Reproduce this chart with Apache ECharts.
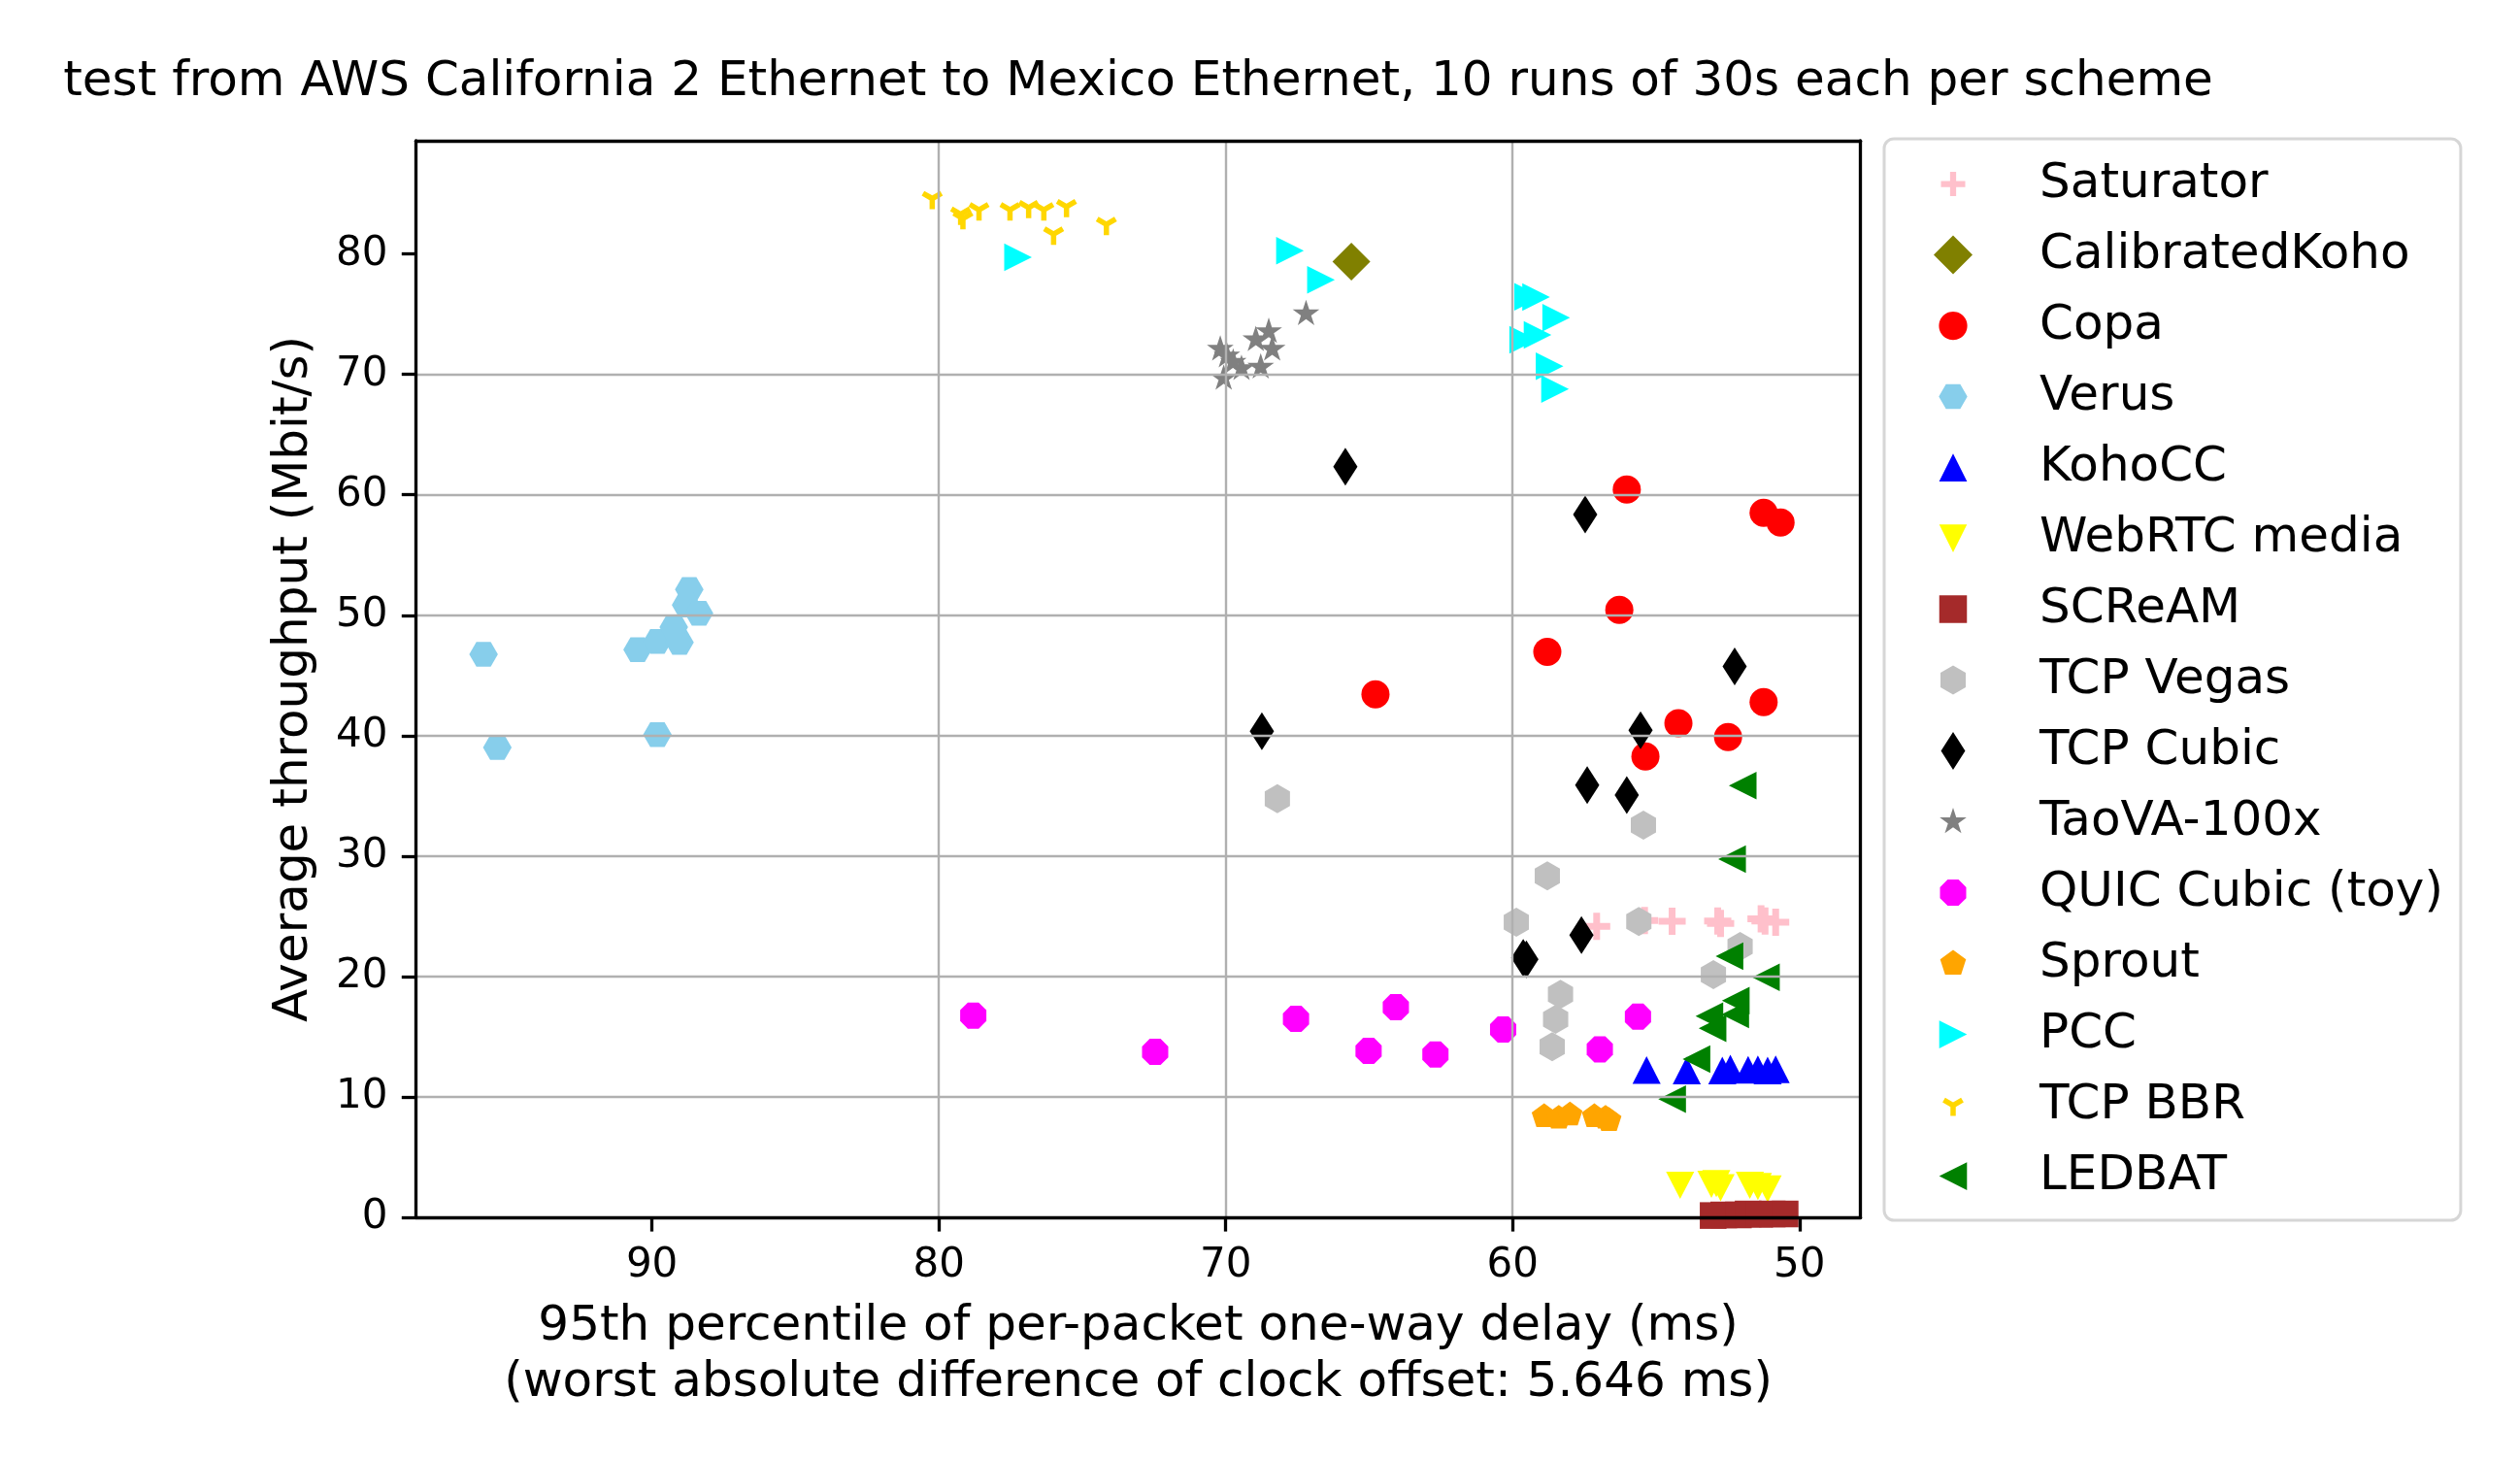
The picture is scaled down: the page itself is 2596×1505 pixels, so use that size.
<!DOCTYPE html>
<html>
<head>
<meta charset="utf-8">
<script src="https://cdn.jsdelivr.net/npm/echarts@6/dist/echarts.min.js"></script>
<style>
html,body{margin:0;padding:0;background:#fff;}
#chart{width:2596px;height:1505px;}
</style>
</head>
<body>
<div id="chart"></div>
<script>
// ---------------- data ----------------
const titleText = 'test from AWS California 2 Ethernet to Mexico Ethernet, 10 runs of 30s each per scheme';
const xName = '95th percentile of per-packet one-way delay (ms)\n(worst absolute difference of clock offset: 5.646 ms)';
const yName = 'Average throughput (Mbit/s)';
const xTicks = [50, 60, 70, 80, 90];
const yTicks = [0, 10, 20, 30, 40, 50, 60, 70, 80];
const xRange = [47.87, 98.23];
const yRange = [0, 89.4];

const schemes = ['Saturator', 'CalibratedKoho', 'Copa', 'Verus', 'KohoCC', 'WebRTC media', 'SCReAM',
  'TCP Vegas', 'TCP Cubic', 'TaoVA-100x', 'QUIC Cubic (toy)', 'Sprout', 'PCC', 'TCP BBR', 'LEDBAT'];

const saturator = [[57.07,24.16],[55.4,24.64],[54.44,24.59],[52.85,24.6],[52.75,24.4],[51.34,24.78],[51.2,24.6],[50.83,24.51]];
const calibratedKoho = [[65.62,79.37]];
const copa = [[56.02,60.44],[51.25,58.5],[50.66,57.7],[56.28,50.44],[58.79,46.95],[64.78,43.43],[51.25,42.78],[54.22,41.03],[52.49,39.88],[55.37,38.27]];
const verus = [[95.87,46.76],[95.39,39.02],[90.5,47.14],[89.81,40.09],[89.81,47.83],[89.04,47.75],[89.24,49.02],[88.7,52.14],[88.81,50.85],[88.36,50.17]];
const kohoCC = [[55.33,12.24],[53.93,12.2],[52.69,12.2],[52.41,12.35],[51.79,12.25],[51.45,12.3],[51.11,12.2],[50.83,12.3]];
const webrtc = [[54.16,2.66],[53.07,2.75],[52.9,2.8],[52.75,2.45],[51.73,2.66],[51.45,2.55],[51.11,2.35]];
const scream = [[53.01,0.15],[52.64,0.2],[52.13,0.2],[51.79,0.28],[51.39,0.25],[50.95,0.28],[50.5,0.28]];
const vegas = [[55.44,32.57],[58.79,28.35],[59.87,24.51],[55.6,24.56],[52.07,22.49],[53.0,20.15],[58.33,18.52],[58.5,16.45],[58.62,14.16],[68.2,34.77]];
const cubic = [[65.83,62.34],[57.47,58.37],[52.26,45.74],[55.54,40.45],[68.74,40.37],[57.4,35.9],[56.02,35.07],[57.6,23.43],[59.63,21.55],[59.52,21.42]];
const taova = [[67.2,75.03],[68.5,73.55],[68.95,72.88],[68.38,72.08],[70.19,72.08],[69.74,71.0],[69.45,70.47],[68.78,70.6],[70.07,69.67],[69.96,71.53]];
const quic = [[78.8,16.75],[72.46,13.74],[67.55,16.48],[64.07,17.45],[65.02,13.82],[62.69,13.53],[60.33,15.6],[55.63,16.66],[56.96,13.95]];
const sprout = [[58.9,8.38],[58.39,8.25],[58.0,8.52],[57.15,8.38],[56.76,8.25],[56.64,8.06]];
const pcc = [[77.24,79.73],[67.76,80.27],[66.68,77.85],[59.46,76.45],[59.18,76.43],[58.48,74.71],[59.63,72.88],[59.13,73.28],[58.71,70.68],[58.52,68.79]];
const bbr = [[80.23,84.6],[79.24,83.3],[79.16,82.94],[78.6,83.66],[77.52,83.66],[76.87,83.85],[76.34,83.66],[75.55,83.93],[76.0,81.65],[74.16,82.45]];
const ledbat = [[51.98,35.85],[52.35,29.75],[52.44,21.69],[51.17,19.94],[52.22,18.0],[52.24,16.85],[53.14,16.71],[53.03,15.69],[53.59,13.14],[54.44,9.81]];

const schemeData = [saturator, calibratedKoho, copa, verus, kohoCC, webrtc, scream,
  vegas, cubic, taova, quic, sprout, pcc, bbr, ledbat];

// ---------------- marker shapes & styles ----------------
const FONT = 'DejaVu Sans';
const P = s => 'path://' + s;
// invisible zero-area sub-paths that widen the vertical extent (keeps marker centred / sets legend icon scale)
const padY = (cx, y0, y1) => ` M${cx},${y0}L${cx + 0.001},${y0}L${cx},${y0}Z M${cx},${y1}L${cx + 0.001},${y1}L${cx},${y1}Z`;
const circleShape = (() => {
  let s = '';
  for (let k = 0; k < 48; k++) {
    const a = k / 48 * Math.PI * 2;
    s += (k ? 'L' : 'M') + Math.cos(a).toFixed(4) + ',' + Math.sin(a).toFixed(4);
  }
  return s + 'Z';
})();
const SH = {
  plus: 'M-0.25,-1L0.25,-1L0.25,-0.25L1,-0.25L1,0.25L0.25,0.25L0.25,1L-0.25,1L-0.25,0.25L-1,0.25L-1,-0.25L-0.25,-0.25Z',
  diamond: 'M0,-1L1,0L0,1L-1,0Z',
  thinDiamond: 'M0,-1L0.64,0L0,1L-0.64,0Z',
  triUp: 'M0,-1L1,1L-1,1Z',
  square: 'M0,0L1,0L1,1L0,1Z',
  hexFlat: 'M-1,0L-0.5,-0.866L0.5,-0.866L1,0L0.5,0.866L-0.5,0.866Z',
  hexPoint: 'M0,-1L0.866,-0.5L0.866,0.5L0,1L-0.866,0.5L-0.866,-0.5Z',
  triDown: 'M0,0L2,0L1,2Z',
  triLeft: 'M2,0L2,2L0,1Z',
  triRight: 'M0,0L0,2L2,1Z',
  octagon: 'M0.924,0.383L0.383,0.924L-0.383,0.924L-0.924,0.383L-0.924,-0.383L-0.383,-0.924L0.383,-0.924L0.924,-0.383Z',
  pentagon: 'M0,-1L0.951,-0.309L0.588,0.809L-0.588,0.809L-0.951,-0.309Z',
  star: 'M0,-1L0.2245,-0.309L0.951,-0.309L0.363,0.118L0.588,0.809L0,0.382L-0.588,0.809L-0.363,0.118L-0.951,-0.309L-0.2245,-0.309Z',
  tri1: 'M-0.25,1L0.25,1L0.25,0.144L0.991,-0.283L0.741,-0.717L0,-0.289L-0.741,-0.717L-0.991,-0.283L-0.25,0.144Z',
  circle: circleShape
};
const LEG_H = 40; // legend icon box height (px)
// legend icon: shape centred at (cx,cy), pxPerUnit gives the drawn scale inside the 40px box
const legendIcon = (shape, cx, cy, pxPerUnit) => P(shape + padY(cx, cy - LEG_H / 2 / pxPerUnit, cy + LEG_H / 2 / pxPerUnit));

const styles = [
  {color: '#ffc0cb', symbol: P(SH.plus), size: [28, 28], icon: legendIcon(SH.plus, 0, 0, 12.5)},
  {color: '#808000', symbol: 'diamond', size: [39, 39], icon: legendIcon(SH.diamond, 0, 0, 20)},
  {color: '#ff0000', symbol: 'circle', size: [29, 29], icon: legendIcon(SH.circle, 0, 0, 14.6)},
  {color: '#87ceeb', symbol: P(SH.hexFlat), size: [29.5, 25.5], icon: legendIcon(SH.hexFlat, 0, 0, 14.7)},
  {color: '#0000ff', symbol: 'triangle', size: [29, 28.5], icon: legendIcon(SH.triUp, 0, 0, 14.4)},
  {color: '#ffff00', symbol: P(SH.triDown), size: [29, 28], icon: legendIcon(SH.triDown, 1, 1, 14.3)},
  {color: '#a52a2a', symbol: 'rect', size: [27.5, 27.5], icon: legendIcon(SH.square, 0.5, 0.5, 28.5)},
  {color: '#c0c0c0', symbol: P(SH.hexPoint), size: [26, 30], icon: legendIcon(SH.hexPoint, 0, 0, 15)},
  {color: '#000000', symbol: 'diamond', size: [25, 39], icon: legendIcon(SH.thinDiamond, 0, 0, 19.5)},
  {color: '#808080', symbol: P(SH.star + padY(0, -1, 1)), size: [27.6, 29], icon: legendIcon(SH.star, 0, 0, 14.5)},
  {color: '#ff00ff', symbol: P(SH.octagon), size: [27, 27], icon: legendIcon(SH.octagon, 0, 0, 14.6)},
  {color: '#ffa500', symbol: P(SH.pentagon + padY(0, -1, 1)), size: [25.7, 27], icon: legendIcon(SH.pentagon, 0, 0, 14)},
  {color: '#00ffff', symbol: P(SH.triRight), size: [28.5, 28.5], icon: legendIcon(SH.triRight, 1, 1, 14.3)},
  {color: '#ffd700', symbol: P(SH.tri1 + padY(0, -1, 1)), size: [21.8, 22], icon: legendIcon(SH.tri1, 0, 0, 11)},
  {color: '#008000', symbol: P(SH.triLeft), size: [28.5, 28.5], icon: legendIcon(SH.triLeft, 1, 1, 14.3)}
];

const series = schemes.map((name, i) => ({
  name: name,
  type: 'scatter',
  data: schemeData[i],
  symbol: styles[i].symbol,
  symbolSize: styles[i].size,
  itemStyle: {color: styles[i].color, opacity: 1, borderWidth: 0},
  emphasis: {disabled: true},
  z: 2,
  clip: false
}));

const legendData = schemes.map((name, i) => ({name: name, icon: styles[i].icon}));

const GRID = {left: 428.4, top: 145, width: 1488.3, height: 1109};
const SPINE = {show: true, onZero: false, lineStyle: {color: '#000', width: 3.3}};
const GRIDLINE = {show: true, showMinLine: false, showMaxLine: false, lineStyle: {color: '#b0b0b0', width: 2.4}};

const option = {
  animation: false,
  backgroundColor: '#ffffff',
  title: {
    text: titleText,
    left: GRID.left + GRID.width / 2,
    top: 55,
    padding: 0,
    textAlign: 'center',
    textStyle: {fontFamily: FONT, fontSize: 50, fontWeight: 'normal', color: '#000', lineHeight: 60}
  },
  grid: Object.assign({outerBoundsMode: 'none', containLabel: false}, GRID),
  legend: {
    orient: 'vertical',
    left: 1941,
    top: 143,
    padding: [21.6, 18, 20.4, 51],
    itemWidth: 110,
    itemHeight: LEG_H,
    itemGap: 23.0,
    selectedMode: false,
    backgroundColor: '#ffffff',
    borderColor: '#d6d6d6',
    borderWidth: 3,
    borderRadius: 10,
    textStyle: {fontFamily: FONT, fontSize: 50, color: '#000', lineHeight: 30, padding: [0, 0, 10, 29]},
    data: legendData
  },
  xAxis: [
    {
      type: 'value', gridIndex: 0, position: 'bottom', inverse: true,
      min: xRange[0], max: xRange[1], z: 10,
      axisLine: SPINE,
      axisTick: {show: true, inside: false, length: 14.6, customValues: xTicks, lineStyle: {color: '#000', width: 3.3}},
      axisLabel: {show: true, customValues: xTicks, margin: 29, color: '#000', fontFamily: FONT, fontSize: 42},
      splitLine: GRIDLINE,
      name: xName, nameLocation: 'middle', nameGap: 84,
      nameTextStyle: {fontFamily: FONT, fontSize: 50, color: '#000', lineHeight: 58}
    },
    {
      type: 'value', gridIndex: 0, position: 'top', inverse: true,
      min: xRange[0], max: xRange[1], z: 10,
      axisLine: SPINE, axisTick: {show: false}, axisLabel: {show: false}, splitLine: {show: false}
    }
  ],
  yAxis: [
    {
      type: 'value', gridIndex: 0, position: 'left',
      min: yRange[0], max: yRange[1], interval: 10, z: 10,
      axisLine: SPINE,
      axisTick: {show: true, inside: false, length: 14.6, customValues: yTicks, lineStyle: {color: '#000', width: 3.3}},
      axisLabel: {show: true, customValues: yTicks, margin: 29, color: '#000', fontFamily: FONT, fontSize: 42},
      splitLine: GRIDLINE,
      name: yName, nameLocation: 'middle', nameGap: 100, nameRotate: 90,
      nameTextStyle: {fontFamily: FONT, fontSize: 50, color: '#000', lineHeight: 50}
    },
    {
      type: 'value', gridIndex: 0, position: 'right',
      min: yRange[0], max: yRange[1], interval: 10, z: 10,
      axisLine: SPINE, axisTick: {show: false}, axisLabel: {show: false}, splitLine: {show: false}
    }
  ],
  series: series
};

const chart = echarts.init(document.getElementById('chart'), null, {renderer: 'canvas'});
chart.setOption(option);
</script>
</body>
</html>
